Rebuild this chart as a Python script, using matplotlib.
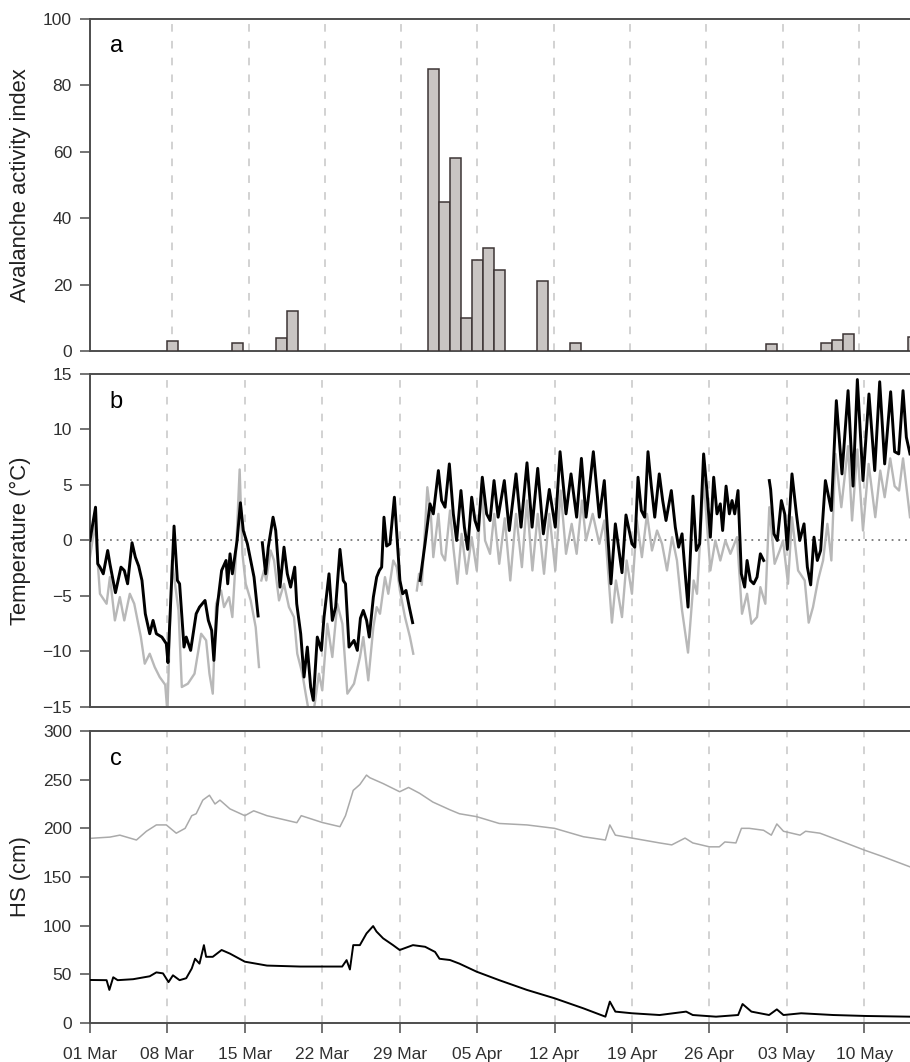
import numpy as np
import pandas as pd
import matplotlib
matplotlib.use("Agg")
import matplotlib.pyplot as plt
import matplotlib.dates as mdates

plt.rcParams["font.family"] = ["Liberation Sans", "DejaVu Sans"]

start = pd.Timestamp("2009-03-01")
week_ticks = pd.date_range("2009-03-01", periods=11, freq="7D")

# --- (a) avalanche activity index, daily ---
aai_dates = ["2009-03-08", "2009-03-14", "2009-03-18", "2009-03-19", "2009-04-01",
             "2009-04-02", "2009-04-03", "2009-04-04", "2009-04-05", "2009-04-06",
             "2009-04-07", "2009-04-11", "2009-04-14", "2009-05-02", "2009-05-07",
             "2009-05-08", "2009-05-09", "2009-05-15"]
aai_vals = [3, 2.5, 4, 12, 85, 45, 58, 10, 27.5, 31, 24.5, 21, 2.5, 2, 2.3, 3.3, 5.2, 4.2]

# --- (b) air temperature, days since 01 Mar ---
nan = np.nan
tb_day = [0.0, 0.2, 0.5, 0.7, 0.9, 1.2, 1.6, 1.8, 2.3, 2.8, 3.1, 3.4, 3.8, 4.1, 4.4, 4.7,
          5.0, 5.4, 5.7, 6.0, 6.5, 6.9, 7.05, 7.6, 7.9, 8.1, 8.5, 8.7, 9.1, 9.6, 9.9, 10.4,
          10.7, 11.0, 11.2, 11.5, 11.9, 12.3, 12.45, 12.66, 12.87, 13.3, 13.6, 13.86, 14.23,
          14.53, 14.83, 15.2, 15.4, 15.58, 15.88, 16.12, 16.55, 16.79, 17.18, 17.54, 17.84,
          18.14, 18.51, 18.69, 19.05, 19.35, 19.65, 19.95, 20.19, 20.55, 20.92, 21.16, 21.61,
          21.91, 22.21, 22.6, 22.9, 23.1, 23.42, 23.87, 24.17, 24.45, 24.71, 25.01, 25.25,
          25.62, 25.92, 26.16, 26.37, 26.58, 26.82, 27.12, 27.52, 27.78, 28.02, 28.27, 28.57,
          28.87, 29.17, 29.5, 29.84, 30.29, 30.74, 31.04, 31.5, 31.79, 32.1, 32.49, 32.85,
          33.15, 33.54, 33.85, 34.15, 34.51, 34.81, 35.11, 35.47, 35.86, 36.17, 36.53, 36.9,
          37.46, 37.91, 38.52, 38.97, 39.51, 39.97, 40.48, 40.99, 41.53, 42.07, 42.5, 43.04,
          43.49, 44.0, 44.43, 44.85, 45.03, 45.51, 46.05, 46.5, 47.1, 47.5, 48.1, 48.46, 49.0,
          49.25, 49.55, 49.85, 50.15, 50.45, 50.75, 51.06, 51.47, 51.78, 52.08, 52.56, 52.92,
          53.22, 53.53, 53.77, 54.07, 54.52, 54.82, 55.12, 55.48, 55.78, 56.09, 56.39, 56.69,
          56.99, 57.2, 57.51, 57.81, 58.05, 58.29, 58.59, 58.89, 59.19, 59.41, 59.71, 60.01,
          60.31, 60.61, 60.91, 61.15, 61.42, 61.54, 61.84, 62.14, 62.51, 62.81, 63.05, 63.47,
          63.87, 64.17, 64.56, 64.86, 65.16, 65.46, 65.76, 66.06, 66.49, 67.03, 67.48, 67.99,
          68.54, 68.99, 69.38, 69.89, 70.43, 70.95, 71.4, 71.85, 72.39, 72.75, 73.12, 73.51,
          73.81, 74.14]
tb_val = [0.0, 1.2, 3.0, -2.1, -2.4, -3.0, -0.9, -2.1, -4.7, -2.4, -2.7, -3.9, -0.2, -1.5,
          -2.3, -3.6, -6.6, -8.4, -7.2, -8.4, -8.7, -9.3, -11.0, 1.3, -3.6, -3.9, -9.6, -8.7,
          -9.9, -6.6, -6.0, -5.4, -7.2, -8.1, -10.8, -6.0, -2.7, -1.8, -3.9, -1.2, -3.0, 0.0,
          3.4, 0.9, -0.3, -1.8, -3.3, -6.8, nan, -0.2, -3.0, -0.6, 2.1, 0.9, -4.2, -0.6, -3.0,
          -4.2, -2.4, -5.7, -8.4, -12.3, -9.6, -13.2, -14.4, -8.7, -9.9, -6.9, -3.0, -7.2,
          -6.0, -0.8, -3.6, -3.9, -9.6, -9.0, -9.9, -7.0, -6.3, -7.2, -8.7, -5.1, -3.3, -2.7,
          -2.4, 2.1, -0.5, -0.3, 3.9, 0.0, -3.6, -4.8, -4.5, -6.0, -7.4, nan, -3.6, -0.3, 3.3,
          2.4, 6.3, 3.6, 3.0, 6.9, 2.4, 0.0, 4.5, 1.2, -0.8, 3.9, 1.8, 0.9, 5.7, 2.4, 1.8, 5.4,
          2.1, 5.4, 0.9, 6.0, 1.2, 7.0, 1.2, 6.5, 0.6, 4.6, 1.2, 8.0, 2.4, 6.0, 2.1, 7.4, 2.1,
          3.6, 8.0, 2.1, 5.4, -3.9, 1.5, -2.9, 2.3, -0.3, -0.6, 5.7, 2.7, 2.1, 8.0, 4.9, 2.1,
          6.0, 3.6, 1.8, 4.5, 1.2, -0.6, 0.6, -2.4, -6.0, 4.0, -0.9, -0.3, 7.8, 4.5, 0.3, 5.7,
          2.4, 3.3, 0.9, 4.9, 2.4, 3.6, 2.4, 4.5, -3.0, -4.2, -1.8, -3.6, -3.9, -3.3, -1.2,
          -1.8, nan, 5.4, 4.6, 0.6, 0.0, 3.6, 2.4, -0.8, 6.0, 2.4, 0.0, 1.5, -2.4, -4.0, 0.3,
          -1.8, -0.9, 5.4, 2.7, 12.6, 6.0, 13.5, 4.9, 14.5, 5.4, 13.2, 6.3, 14.3, 6.9, 13.4,
          8.0, 7.8, 13.5, 9.3, 7.8]

tg_day = [0.0, 0.45, 0.9, 1.5, 1.8, 2.25, 2.7, 3.1, 3.6, 4.0, 4.6, 4.95, 5.4, 5.85, 6.3, 6.8,
          7.0, 7.4, 7.7, 8.0, 8.3, 8.85, 9.45, 10.05, 10.5, 10.8, 11.1, 11.4, 11.85, 12.12,
          12.57, 12.87, 13.17, 13.53, 13.78, 14.08, 14.53, 14.98, 15.28, 15.4, 15.49, 15.73,
          15.94, 16.33, 16.64, 17.09, 17.54, 17.99, 18.44, 18.74, 19.2, 19.5, 19.8, 20.25,
          20.7, 21.0, 21.46, 21.91, 22.36, 22.82, 23.27, 23.87, 24.41, 24.71, 25.16, 25.62,
          25.92, 26.22, 26.67, 26.97, 27.42, 27.73, 28.02, 28.48, 28.93, 29.23, 29.4, 29.55,
          29.75, 30.0, 30.29, 30.5, 30.83, 31.04, 31.5, 31.79, 32.1, 32.55, 32.85, 33.21, 33.6,
          34.06, 34.51, 34.97, 35.42, 35.72, 36.17, 36.55, 37.0, 37.5, 38.0, 38.52, 39.05,
          39.5, 40.0, 40.48, 41.05, 41.53, 42.07, 42.55, 43.04, 43.55, 44.0, 44.48, 44.85,
          45.45, 46.05, 46.5, 47.19, 47.55, 48.1, 48.52, 49.0, 49.45, 49.9, 50.36, 50.81,
          51.27, 51.72, 52.17, 52.63, 53.07, 53.53, 54.07, 54.58, 54.88, 55.48, 56.09, 56.54,
          56.99, 57.45, 57.9, 58.5, 58.95, 59.41, 59.8, 60.31, 60.61, 61.06, 61.42, 61.9,
          62.36, 62.66, 63.11, 63.47, 64.02, 64.62, 64.98, 65.37, 65.82, 66.28, 66.67, 67.03,
          67.4, 67.93, 68.54, 68.9, 69.38, 69.89, 70.4, 71.0, 71.45, 71.85, 72.35, 72.75,
          73.15, 73.51, 74.14]
tg_val = [-1.5, 1.5, -4.8, -5.7, -3.3, -7.2, -5.1, -7.2, -4.8, -5.7, -8.7, -11.1, -10.2,
          -11.4, -12.3, -13.0, -15.5, -1.8, -4.0, -6.3, -13.2, -12.9, -12.0, -8.4, -9.0,
          -12.0, -13.8, -5.7, -4.5, -6.0, -5.1, -6.9, -1.8, 6.4, -1.2, -3.9, -5.4, -7.8,
          -11.4, nan, -3.6, -2.7, -3.6, -0.9, -1.8, -5.4, -3.9, -6.0, -6.9, -10.2, -12.0,
          -13.8, -15.5, -15.2, -12.0, -13.5, -7.5, -10.5, -5.7, -7.5, -13.8, -12.9, -10.5,
          -8.7, -12.6, -7.8, -6.0, -6.6, -3.3, -4.8, -1.8, -2.4, -4.5, -6.9, -8.7, -10.2, nan,
          -4.5, -3.0, -4.0, 1.2, 4.8, 2.1, -1.5, 2.4, -1.2, -1.8, 2.7, -0.6, -3.9, 0.6, -3.0,
          0.3, -2.7, 5.1, 0.0, -1.2, 2.4, -2.1, 2.0, -3.6, 2.4, -2.4, 3.6, -2.7, 2.4, -3.0,
          2.4, -2.7, 4.5, -1.2, 1.5, -1.2, 3.6, 0.0, 2.4, -0.3, 1.8, -7.4, -3.6, -6.9, -1.8,
          -4.8, 1.8, -1.5, 2.4, -0.9, 0.9, -0.3, -2.7, 0.3, -1.8, -6.3, -10.1, -3.6, -4.8,
          5.5, -2.7, 0.0, -1.8, 0.0, -1.2, 0.3, -6.6, -4.8, -7.5, -6.9, -4.2, -5.7, 3.0,
          -2.1, -0.9, 0.0, -3.9, 2.1, -2.7, -3.6, -7.4, -6.0, -3.6, -1.8, 1.5, -1.8, 7.8,
          3.0, 8.5, 1.8, 8.2, 0.9, 6.9, 2.1, 6.3, 3.9, 7.4, 4.9, 4.5, 7.4, 2.1]

# --- (c) snow depth HS (cm) ---
hg_day = [0.0, 1.8, 2.7, 4.2, 5.1, 6.0, 6.9, 7.8, 8.6, 9.2, 9.6, 10.2, 10.8, 11.3, 11.75,
          12.65, 14.0, 14.8, 16.0, 18.7, 19.1, 21.0, 22.6, 23.1, 23.8, 24.4, 25.0, 25.3,
          26.5, 28.0, 28.8, 29.8, 31.0, 32.55, 33.4, 34.96, 37.0, 39.5, 42.0, 44.6, 46.6,
          47.0, 47.5, 49.0, 51.5, 52.6, 53.8, 54.5, 56.0, 56.9, 57.4, 58.4, 58.9, 59.6, 60.9,
          61.6, 62.1, 62.7, 64.2, 64.7, 66.0, 68.1, 70.0, 71.7, 74.1]
hg_val = [189.7, 191, 193, 188, 197, 203.5, 203.5, 195, 200, 213, 215, 229, 234, 225, 229,
          220, 213, 218, 213, 205.8, 213, 206, 201.7, 213, 239, 245, 254.7, 252, 246, 237.6,
          242, 236, 227, 219, 215, 212, 205, 203.5, 200, 191.4, 188, 203.5, 193, 190, 185,
          183, 190, 185, 181, 181, 186, 185, 200, 200, 198, 193, 204.5, 197, 193, 197, 195,
          186, 177.7, 170.9, 160.6]

hb_day = [0.0, 1.5, 1.75, 2.1, 2.5, 3.9, 5.4, 6.0, 6.6, 7.1, 7.5, 8.1, 8.7, 9.2, 9.5, 9.9,
          10.3, 10.5, 11.1, 11.9, 12.65, 14.0, 16.0, 19.0, 22.8, 23.2, 23.5, 23.8, 24.4, 25.0,
          25.6, 25.9, 26.5, 27.4, 28.0, 29.2, 30.3, 31.2, 31.6, 32.55, 33.4, 34.96, 37.0,
          39.5, 42.0, 44.6, 46.6, 47.0, 47.5, 49.0, 51.5, 53.9, 54.5, 56.6, 58.6, 59.0, 59.8,
          61.4, 62.1, 62.7, 64.3, 67.2, 70.2, 74.1]
hb_val = [44.2, 44, 34, 47, 44, 45, 48, 52, 51, 42, 49, 44, 46, 56, 66, 61, 80, 68, 68, 75,
          71.3, 63, 59, 58, 58, 64.6, 55, 80, 80, 92, 99.6, 94, 87, 80, 75, 80, 78.3, 73, 66,
          64.7, 61, 52.7, 44, 34, 25.4, 15.1, 6.5, 22, 11.7, 10, 8.2, 11.7, 8.2, 6.5, 8.2,
          19.5, 11.7, 8.2, 14, 8.2, 10, 8.2, 7.2, 6.5]


def to_dates(days):
    return start + pd.to_timedelta(np.array(days), unit="D")


spine_col = "#4d4d4d"
grid_col = "#c6c6c6"

fig = plt.figure(figsize=(9.1, 10.62), dpi=100)
W, H = 910, 1062
ax_a = fig.add_axes([90 / W, 1 - 351 / H, 820 / W, 332 / H])
ax_b = fig.add_axes([90 / W, 1 - 707 / H, 820 / W, 333 / H])
ax_c = fig.add_axes([90 / W, 1 - 1023 / H, 820 / W, 292 / H])

for ax in (ax_a, ax_b, ax_c):
    ax.spines["right"].set_visible(False)
    for s in ("top", "left", "bottom"):
        ax.spines[s].set_color(spine_col)
        ax.spines[s].set_linewidth(1.4)
    ax.tick_params(axis="y", direction="out", length=7, width=1.1, color=spine_col,
                   labelsize=12.5, pad=6, labelcolor="#303030")
    for d in week_ticks[1:]:
        ax.axvline(d, color=grid_col, lw=1.1, linestyle=(0, (5, 6)), zorder=1)

# (a)
ax_a.bar(pd.to_datetime(aai_dates), aai_vals, width=1.0, align="center",
         facecolor="#c9c5c3", edgecolor="#3d3535", linewidth=1.1, zorder=3)
ax_a.set_xlim(start - pd.Timedelta(days=0.55), start + pd.Timedelta(days=74.68))
ax_a.set_ylim(0, 100)
ax_a.set_yticks([0, 20, 40, 60, 80, 100])
ax_a.tick_params(axis="x", bottom=False, labelbottom=False)
ax_a.set_ylabel("Avalanche activity index", fontsize=15.8, color="#202020")
ax_a.text(0.024, 0.919, "a", transform=ax_a.transAxes, fontsize=17, ha="left", va="center")

# (b)
ax_b.axhline(0, color="#777777", lw=1.3, linestyle=(0, (1, 2.7)), zorder=1)
ax_b.plot(to_dates(tg_day), tg_val, color="#b8b8b8", lw=1.7, zorder=2)
ax_b.plot(to_dates(tb_day), tb_val, color="black", lw=2.1, zorder=3)
ax_b.set_xlim(start, start + pd.Timedelta(days=74.14))
ax_b.set_ylim(-15, 15)
ax_b.set_yticks([-15, -10, -5, 0, 5, 10, 15])
ax_b.tick_params(axis="x", bottom=False, labelbottom=False)
ax_b.set_ylabel("Temperature (°C)", fontsize=15.8, color="#202020")
ax_b.text(0.024, 0.917, "b", transform=ax_b.transAxes, fontsize=17, ha="left", va="center")

# (c)
ax_c.plot(to_dates(hg_day), hg_val, color="#aaaaaa", lw=1.1, zorder=2)
ax_c.plot(to_dates(hb_day), hb_val, color="black", lw=1.4, zorder=3)
ax_c.set_xlim(start, start + pd.Timedelta(days=74.14))
ax_c.set_ylim(0, 300)
ax_c.set_yticks([0, 50, 100, 150, 200, 250, 300])
ax_c.set_xticks(week_ticks)
ax_c.xaxis.set_major_formatter(mdates.DateFormatter("%d %b"))
ax_c.tick_params(axis="x", direction="out", length=7, width=1.1, color=spine_col,
                 labelsize=12.5, pad=10, labelcolor="#303030")
ax_c.set_ylabel("HS (cm)", fontsize=15.8, color="#202020")
ax_c.text(0.024, 0.904, "c", transform=ax_c.transAxes, fontsize=17, ha="left", va="center")

for ax in (ax_a, ax_b, ax_c):
    ax.yaxis.set_label_coords(-0.072, 0.5)

fig.savefig("out.png", dpi=100)
